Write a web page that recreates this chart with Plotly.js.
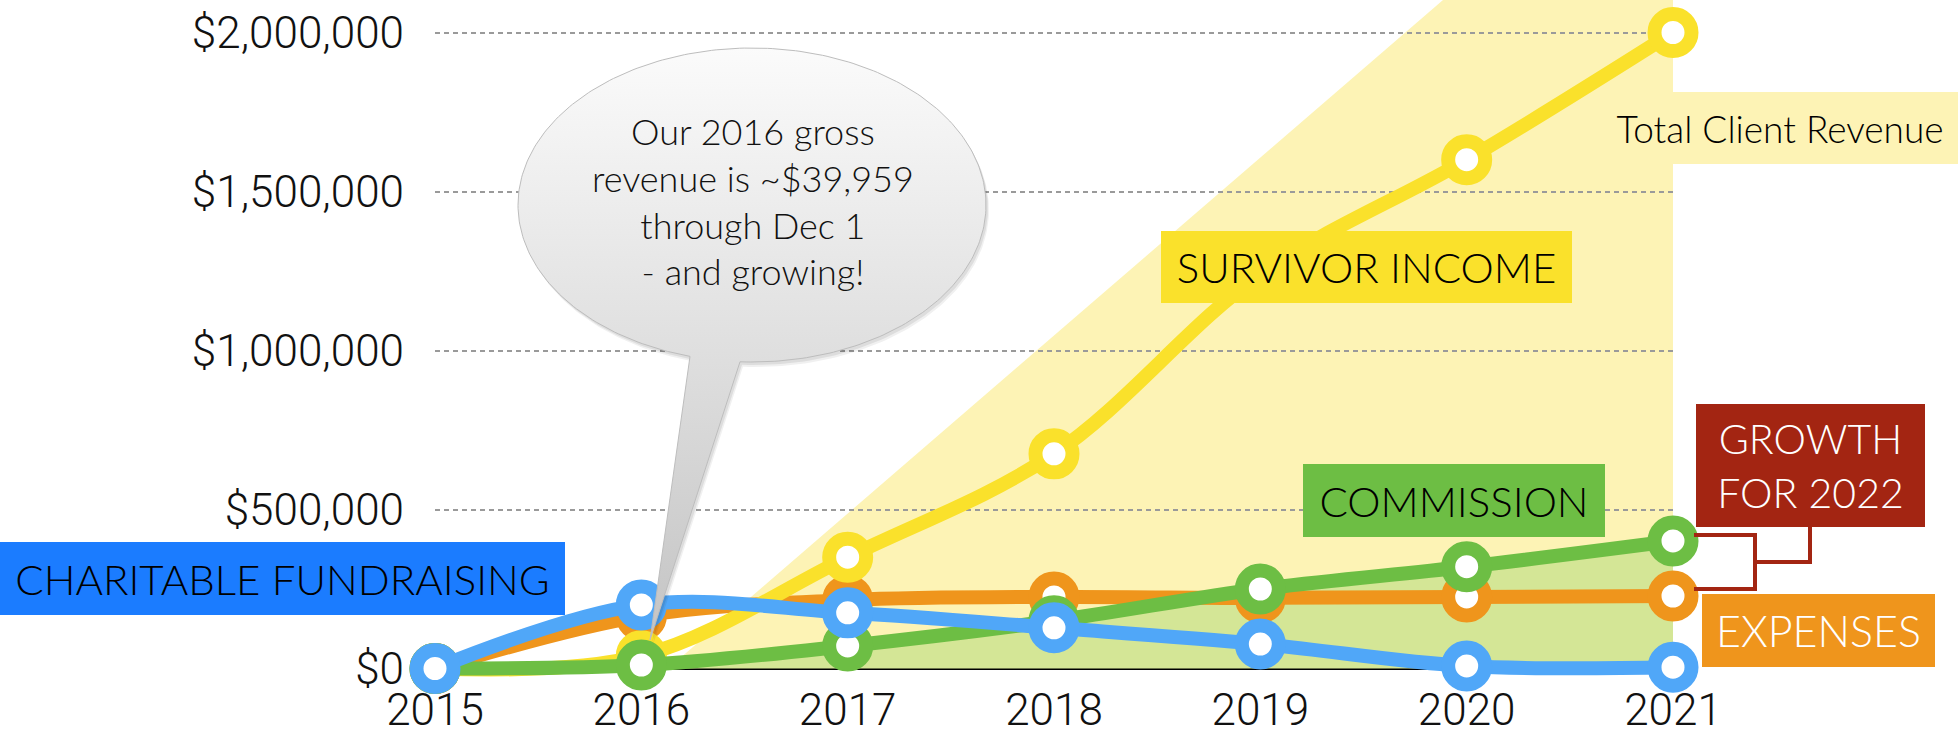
<!DOCTYPE html>
<html><head><meta charset="utf-8">
<script src="https://cdn.plot.ly/plotly-3.0.1.min.js"></script>
<style>html,body{margin:0;padding:0;background:#fff;overflow:hidden}#chart{width:1958px;height:730px}</style>
</head><body><div id="chart"></div>
<script>
// ---------- data ----------
const years = [2015, 2016, 2017, 2018, 2019, 2020, 2021];
const survivorIncome = [0, 40000, 350000, 675000, 1240000, 1600000, 2000000];
const expenses = [0, 165000, 215000, 225000, 222000, 225000, 228000];
const commission = [0, 11000, 71000, 150000, 250000, 320000, 401000];
const charitableFundraising = [0, 200000, 175000, 128000, 77000, 8000, 4000];
const yTickValues = [0, 500000, 1000000, 1500000, 2000000];
const yTickLabels = ['$0', '$500,000', '$1,000,000', '$1,500,000', '$2,000,000'];
const xTickLabels = ['2015', '2016', '2017', '2018', '2019', '2020', '2021'];
const labelCharitable = 'CHARITABLE FUNDRAISING';
const labelSurvivor = 'SURVIVOR INCOME';
const labelTotal = 'Total Client Revenue';
const labelCommission = 'COMMISSION';
const labelGrowth = 'GROWTH<br>FOR 2022';
const labelExpenses = 'EXPENSES';
const bubbleText = 'Our 2016 gross<br>revenue is ~$39,959<br>through Dec 1<br>- and growing!';

// ---------- geometry ----------
const W = 1958, H = 730, L = 435, R = 285, T = 0, B = 50;
const plotW = W - L - R, plotH = H - T - B;
const zeroPx = 668.5, perPx = 2000000 / 636;
const yRange = [(zeroPx - plotH) * perPx, zeroPx * perPx];
const xRange = [2015, 2021];
const px2x = px => (px - L) / plotW;          // paper x
const py2y = py => (H - B - py) / plotH;      // paper y
const pxYear = px => xRange[0] + (px - L) / plotW * (xRange[1] - xRange[0]);

const C = {
  blue: '#50a7f8', blueBox: '#1b7cff', yellow: '#fae12b', orange: '#ef951c',
  green: '#6dbe44', red: '#a32512', paleYellow: '#fdf3b5', paleGreen: '#d4e696'
};

function lineTrace(y, color) {
  return {
    x: years, y: y, type: 'scatter', mode: 'lines+markers', cliponaxis: false,
    line: {color: color, width: 14, shape: 'spline', smoothing: 1},
    marker: {size: 37, color: '#ffffff', line: {color: color, width: 14}},
    hoverinfo: 'skip', showlegend: false
  };
}

// speech bubble outline (pixel space on overlay axes)
const cx = 752, cy = 205, rx = 234, ry = 157;
const tailL = 690, tailR = 740, tip = [650, 640];
const a1 = Math.acos((tailL - cx) / rx), a2 = Math.acos((tailR - cx) / rx) + 2 * Math.PI;
const bx = [], by = [];
for (let t = a1; t < a2; t += 0.02) { bx.push(cx + rx * Math.cos(t)); by.push(H - (cy + ry * Math.sin(t))); }
bx.push(cx + rx * Math.cos(a2)); by.push(H - (cy + ry * Math.sin(a2)));
bx.push(tip[0]); by.push(H - tip[1]);
bx.push(bx[0]); by.push(by[0]);

const shadow = (dx, dy, a) => ({
  x: bx.map(v => v + dx), y: by.map(v => v - dy), xaxis: 'x2', yaxis: 'y2', type: 'scatter', mode: 'lines',
  fill: 'toself', fillcolor: 'rgba(0,0,0,' + a + ')', line: {width: 0}, hoverinfo: 'skip', showlegend: false
});

const traces = [
  {x: years, y: commission, type: 'scatter', mode: 'none', fill: 'tozeroy', fillcolor: C.paleGreen,
   line: {shape: 'spline', smoothing: 1}, hoverinfo: 'skip', showlegend: false},
  lineTrace(expenses, C.orange),
  lineTrace(survivorIncome, C.yellow),
  lineTrace(commission, C.green),
  lineTrace(charitableFundraising, C.blue),
  shadow(3, 5, 0.06), shadow(2, 3, 0.08),
  {x: bx, y: by, xaxis: 'x2', yaxis: 'y2', type: 'scatter', mode: 'lines', fill: 'toself',
   fillgradient: {type: 'vertical', start: H - tip[1], stop: H - 48,
     colorscale: [[0, '#c4c4c4'], [0.47, '#dedede'], [1, '#fbfbfb']]},
   line: {color: '#bdbdbd', width: 1}, hoverinfo: 'skip', showlegend: false}
];

const labelFamily = 'Lato, "Open Sans", sans-serif';
function box(text, x0, y0, x1, y1, bg, color, size) {
  return {text: text, xref: 'paper', yref: 'paper', x: px2x(x0), y: py2y(y0), xanchor: 'left', yanchor: 'top',
    width: x1 - x0, height: y1 - y0, bgcolor: bg, borderpad: 0, borderwidth: 0, showarrow: false,
    align: 'center', valign: 'middle',
    font: {family: labelFamily, size: size, color: color, weight: 300}};
}

const annotations = [
  box(labelCharitable, 0, 542, 565, 615, C.blueBox, '#000', 42),
  box(labelSurvivor, 1161, 231, 1572, 303, C.yellow, '#000', 42),
  box(labelTotal, 1602, 92, 1958, 164, C.paleYellow, '#000', 37),
  box(labelCommission, 1303, 464, 1605, 537, C.green, '#000', 42),
  box(labelGrowth, 1696, 404, 1925, 527, C.red, '#fff', 41),
  box(labelExpenses, 1702, 594, 1935, 667, C.orange, '#fff', 43),
  {text: bubbleText, xref: 'paper', yref: 'paper', x: px2x(753), y: py2y(201), xanchor: 'center', yanchor: 'middle',
   showarrow: false, align: 'center', font: {family: labelFamily, size: 36, color: '#111', weight: 300}}
];

function seg(x0, y0, x1, y1) {
  return {type: 'line', xref: 'paper', yref: 'paper', x0: px2x(x0), y0: py2y(y0), x1: px2x(x1), y1: py2y(y1),
    line: {color: C.red, width: 4}, layer: 'above'};
}

const shapes = [
  {type: 'path', xref: 'x', yref: 'y', layer: 'below', fillcolor: C.paleYellow, line: {width: 0},
   path: 'M' + pxYear(668) + ',0 L' + pxYear(1443) + ',' + yRange[1] + ' L2021.03,' + yRange[1] + ' L2021.03,0 Z'},
  seg(1810, 527, 1810, 562), seg(1812, 562, 1753, 562), seg(1755, 533, 1755, 591),
  seg(1694, 535, 1757, 535), seg(1694, 589, 1757, 589)
];

const tickFont = {family: 'Roboto, "Liberation Sans", sans-serif', size: 44, color: '#111', weight: 300};

const layout = {
  width: W, height: H, margin: {l: L, r: R, t: T, b: B, pad: 0},
  paper_bgcolor: '#ffffff', plot_bgcolor: 'rgba(0,0,0,0)', showlegend: false,
  xaxis: {range: xRange, tickvals: years, ticktext: xTickLabels, showgrid: false, zeroline: false,
          showline: false, ticks: '', tickfont: tickFont, ticklabelstandoff: 0, fixedrange: true},
  yaxis: {range: yRange, tickvals: yTickValues, ticktext: yTickLabels, showgrid: true,
          gridcolor: '#9a9a9a', gridwidth: 2, griddash: '5px,4px', zeroline: true, zerolinecolor: '#000',
          zerolinewidth: 3, showline: false, ticks: '', tickfont: tickFont, ticklabelstandoff: 30, fixedrange: true},
  xaxis2: {overlaying: 'x', anchor: 'y2', range: [L, L + plotW], visible: false, fixedrange: true},
  yaxis2: {overlaying: 'y', anchor: 'x2', range: [H - (T + plotH), H - T], visible: false, fixedrange: true},
  shapes: shapes, annotations: annotations
};

Plotly.newPlot('chart', traces, layout, {displayModeBar: false, staticPlot: true});
</script>
</body></html>
